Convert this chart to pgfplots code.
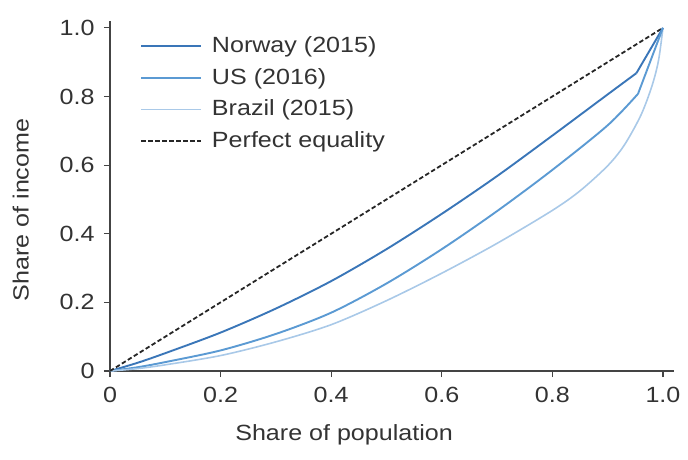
\documentclass[border=0pt]{standalone}
\usepackage{fontspec}
\setmainfont{Liberation Sans}[FakeStretch=1.14]
\usepackage{pgfplots}
\pgfplotsset{compat=1.18}
\definecolor{norway}{HTML}{3A76B8}
\definecolor{us}{HTML}{5B9AD3}
\definecolor{brazil}{HTML}{A9C9E8}
\definecolor{axgray}{HTML}{444444}
\definecolor{txtgray}{HTML}{333333}
\begin{document}
\fontsize{22pt}{26pt}\selectfont
\begin{tikzpicture}
\begin{axis}[
  scale only axis,
  width=564pt, height=350pt,
  xmin=0, xmax=1.02, ymin=0, ymax=1.02,
  axis lines=left,
  axis line style={axgray, line width=1.4pt, -},
  xtick={0,0.2,0.4,0.6,0.8,1.0},
  xticklabels={0,0.2,0.4,0.6,0.8,1.0},
  ytick={0,0.2,0.4,0.6,0.8,1.0},
  yticklabels={0,0.2,0.4,0.6,0.8,1.0},
  tick style={axgray, line width=1.2pt},
  tick align=outside,
  major tick length=6pt,
  /pgf/number format/assume math mode=true,
  ticklabel style={font=\fontsize{22pt}{26pt}\selectfont, text=txtgray},
  xticklabel style={yshift=-3pt},
  yticklabel style={xshift=-2pt},
  label style={font=\fontsize{22pt}{26pt}\selectfont, text=txtgray},
  xlabel={Share of population},
  ylabel={Share of income},
  xlabel style={at={(axis description cs:0.415,-0.183)}, anchor=center},
  ylabel style={at={(axis description cs:-0.158,0.46)}, anchor=center},
  clip=false,
  legend style={draw=none, fill=none, at={(axis description cs:0.053,0.962)}, anchor=north west,
    font=\fontsize{22pt}{26pt}\selectfont, text=txtgray, row sep=8.5pt, inner sep=0pt},
  legend cell align=left,
  legend image code/.code={\draw[#1] (0pt,0pt) -- (60pt,0pt); \path (68pt,0pt);},
]
\coordinate (O) at (axis cs:0,0);
\addplot[norway, line width=1.9pt, smooth, tension=0.5] coordinates {
 (0,0) (0.05,0.024) (0.1,0.052) (0.2,0.112) (0.3,0.182) (0.4,0.262) (0.5,0.355)
 (0.6,0.458) (0.7,0.568) (0.8,0.686) (0.9,0.806) (0.952,0.868)};
\addlegendentry{Norway (2015)}
\addplot[us, line width=1.9pt, smooth, tension=0.5] coordinates {
 (0,0) (0.05,0.011) (0.1,0.026) (0.2,0.06) (0.3,0.108) (0.4,0.17) (0.5,0.255)
 (0.6,0.355) (0.7,0.466) (0.8,0.586) (0.9,0.716) (0.955,0.808)};
\addlegendentry{US (2016)}
\addplot[brazil, line width=1.6pt, smooth, tension=0.5] coordinates {
 (0,0) (0.05,0.007) (0.1,0.018) (0.2,0.045) (0.3,0.085) (0.4,0.135) (0.5,0.205)
 (0.6,0.285) (0.7,0.372) (0.8,0.468) (0.85,0.525) (0.9,0.598) (0.93,0.658) (0.96,0.745)
 (0.98,0.83) (0.992,0.905) (1,1)};
\addlegendentry{Brazil (2015)}
\addplot[black!85, line width=1.8pt, dash pattern=on 4.5pt off 2.5pt] coordinates {(0,0) (1,1)};
\addlegendentry{Perfect equality}
\addplot[norway, line width=1.9pt, forget plot] coordinates {(0.952,0.868) (1,1)};
\addplot[us, line width=1.9pt, forget plot] coordinates {(0.955,0.808) (1,1)};
\end{axis}
\path[use as bounding box] ([xshift=-110pt,yshift=-89pt]O) rectangle ([xshift=578pt,yshift=371pt]O);
\end{tikzpicture}
\end{document}
